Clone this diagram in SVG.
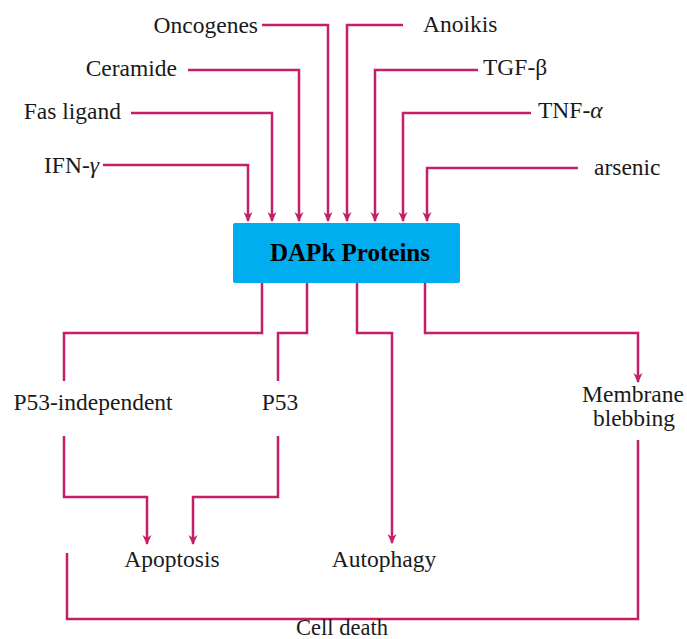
<svg xmlns="http://www.w3.org/2000/svg" width="687" height="639" viewBox="0 0 687 639">
<style>
text{font-family:"Liberation Serif","DejaVu Serif",serif;font-size:23.5px;fill:#1a1a1a}
.c{fill:none;stroke:#C51F68;stroke-width:2.5;stroke-linejoin:miter}
.a{marker-end:url(#ah)}
.t{font-weight:bold;font-size:25px;fill:#000}
</style>
<defs>
<marker id="ah" viewBox="0 0 10 10" refX="9" refY="5" markerWidth="10" markerHeight="10" markerUnits="userSpaceOnUse" orient="auto">
<path d="M0,0.5 L10,5 L0,9.5 L3,5 z" fill="#C51F68"/>
</marker>
</defs>
<rect width="687" height="639" fill="#fff"/>
<g id="connectors">
<polyline class="c a" points="262,25 328,25 328,221"/>
<polyline class="c a" points="188,70 299,70 299,221"/>
<polyline class="c a" points="131,113 272,113 272,221"/>
<polyline class="c a" points="103,165 248,165 248,221"/>
<polyline class="c a" points="403,25 347,25 347,221"/>
<polyline class="c a" points="478,70 375,70 375,221"/>
<polyline class="c a" points="531,113 403,113 403,221"/>
<polyline class="c a" points="578,168 427,168 427,221"/>
<polyline class="c" points="262,283 262,333 64,333 64,381"/>
<polyline class="c" points="307,283 307,333 278,333 278,381"/>
<polyline class="c a" points="357,283 357,333 392,333 392,543"/>
<polyline class="c a" points="425,283 425,333 638,333 638,382"/>
<polyline class="c a" points="64,436 64,497 147,497 147,544"/>
<polyline class="c a" points="278,436 278,497 193,497 193,544"/>
<polyline class="c" points="67,553 67,619 638,619 638,440"/>
</g>
<g id="oncogenes"><text x="258" y="33" text-anchor="end">Oncogenes</text></g>
<g id="ceramide"><text x="177" y="76" text-anchor="end">Ceramide</text></g>
<g id="fas-ligand"><text x="121" y="119" text-anchor="end">Fas ligand</text></g>
<g id="ifn-gamma"><text x="99" y="173" text-anchor="end">IFN-<tspan font-style="italic">γ</tspan></text></g>
<g id="anoikis"><text x="423" y="32">Anoikis</text></g>
<g id="tgf-beta"><text x="483" y="75">TGF-β</text></g>
<g id="tnf-alpha"><text x="538" y="118">TNF-<tspan font-style="italic">α</tspan></text></g>
<g id="arsenic"><text x="594" y="175">arsenic</text></g>
<g id="dapk">
<rect x="233" y="223" width="227" height="60" rx="2" fill="#00AEEF"/>
<text class="t" x="350" y="261" text-anchor="middle">DAPk Proteins</text>
</g>
<g id="p53-independent"><text x="93" y="410" text-anchor="middle">P53-independent</text></g>
<g id="p53"><text x="280" y="410" text-anchor="middle">P53</text></g>
<g id="membrane-blebbing">
<text x="633" y="402" text-anchor="middle">Membrane</text>
<text x="634" y="426" text-anchor="middle">blebbing</text>
</g>
<g id="apoptosis"><text x="172" y="567" text-anchor="middle">Apoptosis</text></g>
<g id="autophagy"><text x="384" y="567" text-anchor="middle">Autophagy</text></g>
<g id="cell-death"><text x="342" y="634.5" text-anchor="middle" style="font-size:22.5px">Cell death</text></g>
</svg>
